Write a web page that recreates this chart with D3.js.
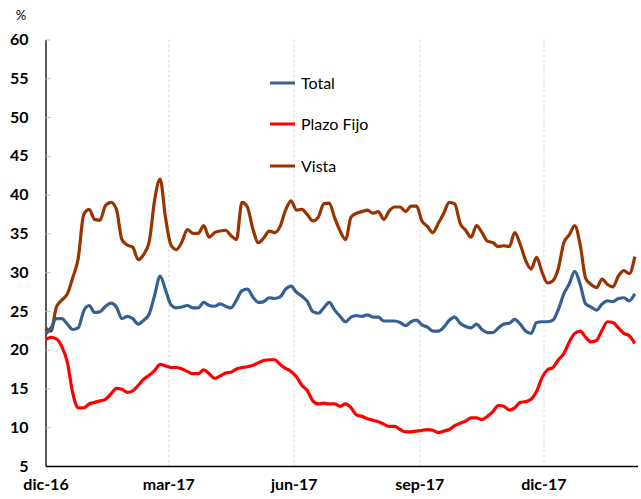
<!DOCTYPE html>
<html>
<head>
<meta charset="utf-8">
<script src="https://cdn.jsdelivr.net/npm/d3@7"></script>
<style>
  body { margin: 0; background: #fff; }
  svg { display: block; font-family: Lato, "Open Sans", sans-serif; }
</style>
</head>
<body>
<div id="wrapper"></div>
<script>
// series sampled every 4 days starting on 1 Dec 2016
const startDate = new Date(2016, 11, 1);
const stepDays = 4;

const totalValues = [
  22.0, 22.8, 24.0, 24.0, 23.3, 22.6, 22.8, 25.0, 25.7, 24.8,
  24.9, 25.6, 26.0, 25.5, 24.0, 24.3, 24.0, 23.3, 23.8, 24.6,
  27.0, 29.5, 27.7, 25.8, 25.4, 25.5, 25.7, 25.4, 25.4, 26.1,
  25.7, 25.6, 25.9, 25.6, 25.4, 26.4, 27.6, 27.8, 26.8, 26.1,
  26.2, 26.7, 26.6, 26.8, 27.8, 28.2, 27.4, 26.9, 26.2, 24.9,
  24.7, 25.4, 26.1, 25.1, 24.3, 23.6, 24.2, 24.4, 24.3, 24.5,
  24.2, 24.2, 23.7, 23.7, 23.7, 23.5, 23.1, 23.6, 23.8, 23.2,
  22.9, 22.4, 22.4, 22.9, 23.8, 24.2, 23.4, 23.0, 22.8, 23.3,
  22.6, 22.2, 22.2, 22.8, 23.3, 23.4, 23.9, 23.3, 22.4, 22.1,
  23.5, 23.6, 23.6, 23.8, 25.2, 27.2, 28.5, 30.1, 28.4, 25.9,
  25.5, 25.1, 25.9, 26.3, 26.2, 26.6, 26.7, 26.3, 27.2
];

const plazoFijoValues = [
  21.3, 21.6, 21.4, 20.4, 18.4, 14.4, 12.5, 12.5, 13.0, 13.2,
  13.4, 13.6, 14.3, 15.0, 14.9, 14.5, 14.7, 15.4, 16.2, 16.7,
  17.3, 18.1, 17.9, 17.7, 17.7, 17.5, 17.2, 16.9, 16.9, 17.4,
  16.9, 16.3, 16.6, 17.0, 17.1, 17.5, 17.7, 17.8, 18.0, 18.3,
  18.6, 18.7, 18.7, 18.1, 17.6, 17.2, 16.5, 15.4, 14.7, 13.4,
  13.0, 13.1, 13.0, 13.0, 12.7, 13.0, 12.5, 11.6, 11.4, 11.1,
  10.9, 10.7, 10.4, 10.1, 10.1, 9.7, 9.4, 9.4, 9.5, 9.6,
  9.7, 9.6, 9.3, 9.5, 9.7, 10.2, 10.5, 10.8, 11.2, 11.2,
  11.0, 11.4, 12.0, 12.8, 12.7, 12.2, 12.5, 13.2, 13.3, 13.6,
  14.6, 16.4, 17.4, 17.7, 18.7, 19.5, 21.0, 22.1, 22.4, 21.6,
  21.0, 21.2, 22.5, 23.6, 23.5, 22.8, 22.1, 21.8, 20.8
];

const vistaValues = [
  22.8, 22.4, 25.5, 26.4, 27.2, 29.3, 31.8, 37.4, 38.1, 36.8,
  36.7, 38.6, 39.0, 38.1, 34.2, 33.5, 33.2, 31.6, 32.3, 33.9,
  39.3, 42.0, 37.0, 33.5, 32.9, 33.9, 35.5, 35.0, 35.0, 36.0,
  34.5, 35.1, 35.3, 35.4, 34.7, 34.2, 39.0, 38.4, 35.6, 33.8,
  34.4, 35.3, 35.1, 35.9, 38.0, 39.2, 38.0, 38.1, 37.4, 36.6,
  37.1, 38.8, 38.9, 37.0, 35.3, 34.2, 37.1, 37.6, 37.8, 38.0,
  37.6, 37.8, 36.8, 37.9, 38.4, 38.4, 37.8, 38.5, 38.5, 36.6,
  35.9, 35.1, 36.3, 37.6, 39.0, 38.8, 36.3, 35.4, 34.5, 36.0,
  35.1, 34.0, 33.8, 33.3, 33.4, 33.3, 35.1, 33.6, 31.5, 30.4,
  31.9, 30.0, 28.6, 28.9, 30.5, 33.8, 34.8, 36.0, 33.5, 29.2,
  28.4, 28.0, 29.1, 28.4, 28.1, 29.5, 30.2, 29.8, 32.0
];

const seriesNames = ["Total", "Plazo Fijo", "Vista"];
const seriesColors = ["#376092", "#ff0000", "#993300"];
const yTicks = [5, 10, 15, 20, 25, 30, 35, 40, 45, 50, 55, 60];
const xTickDates = [new Date(2016, 11, 1), new Date(2017, 2, 1), new Date(2017, 5, 1), new Date(2017, 8, 1), new Date(2017, 11, 1)];
const xTickLabels = ["dic-16", "mar-17", "jun-17", "sep-17", "dic-17"];
const endDate = new Date(2018, 1, 8);

function buildPlot() {
    const dates = totalValues.map((v, i) => d3.timeDay.offset(startDate, i * stepDays));
    const allSeries = [totalValues, plazoFijoValues, vistaValues];

    var dimension = {
        width: 641,
        height: 499,
        margin: { top: 39.5, left: 45.5, bottom: 33, right: 3.5 }
    };
    dimension.boundedWidth = dimension.width - dimension.margin.left - dimension.margin.right;
    dimension.boundedHeight = dimension.height - dimension.margin.top - dimension.margin.bottom;

    const svg = d3.select("#wrapper").append("svg")
        .attr("width", dimension.width)
        .attr("height", dimension.height);
    const bounded = svg.append("g")
        .attr("transform", `translate(${dimension.margin.left},${dimension.margin.top})`);

    const xScaler = d3.scaleTime()
        .domain([startDate, endDate])
        .range([0, dimension.boundedWidth]);
    const yScaler = d3.scaleLinear()
        .domain([5, 60])
        .range([dimension.boundedHeight, 0]);

    // vertical dashed gridlines
    bounded.append("g")
        .selectAll("line")
        .data(xTickDates.slice(1))
        .join("line")
        .attr("x1", d => Math.round(xScaler(d)) + 0.5)
        .attr("x2", d => Math.round(xScaler(d)) + 0.5)
        .attr("y1", 0)
        .attr("y2", dimension.boundedHeight + 3)
        .attr("stroke", "#d9d9d9")
        .attr("stroke-dasharray", "3,2");

    // y axis with small inner ticks
    const yAxis = bounded.append("g")
        .call(d3.axisLeft(yScaler).tickValues(yTicks).tickSize(-5).tickSizeOuter(0).tickPadding(17));
    yAxis.select(".domain").attr("stroke", "#000").attr("stroke-width", 1.3);
    yAxis.selectAll(".tick line").attr("stroke", "#bfbfbf");
    yAxis.selectAll("text")
        .attr("font-size", 16).attr("font-weight", "bold").attr("fill", "#000")
        .attr("font-family", "Lato, sans-serif");

    // x axis
    const xAxis = bounded.append("g")
        .attr("transform", `translate(0,${dimension.boundedHeight})`)
        .call(d3.axisBottom(xScaler).tickValues(xTickDates)
            .tickFormat((d, i) => xTickLabels[i]).tickSize(0).tickPadding(13));
    xAxis.select(".domain").attr("stroke", "#000").attr("stroke-width", 1.3);
    xAxis.selectAll("text")
        .attr("font-size", 16).attr("font-weight", "bold").attr("fill", "#000")
        .attr("font-family", "Lato, sans-serif");

    const lineGenerator = values => d3.line()
        .x((d, i) => xScaler(dates[i]))
        .y(d => yScaler(d))
        .curve(d3.curveMonotoneX)(values);

    // draw Vista, Total, then Plazo Fijo on top
    [2, 0, 1].forEach(k => {
        bounded.append("path")
            .attr("d", lineGenerator(allSeries[k]))
            .attr("fill", "none")
            .attr("stroke", seriesColors[k])
            .attr("stroke-width", 3.2)
            .attr("stroke-linejoin", "round");
    });

    // % unit label
    svg.append("text")
        .attr("x", 21).attr("y", 20)
        .attr("text-anchor", "middle")
        .attr("font-size", 13).attr("fill", "#000")
        .text("%");

    // legend
    const legendY = [83, 124, 166];
    const legend = svg.append("g");
    seriesNames.forEach((name, i) => {
        legend.append("line")
            .attr("x1", 270).attr("x2", 295)
            .attr("y1", legendY[i]).attr("y2", legendY[i])
            .attr("stroke", seriesColors[i]).attr("stroke-width", 3);
        legend.append("text")
            .attr("x", 301).attr("y", legendY[i] + 5.5)
            .attr("font-size", 16).attr("fill", "#000")
            .text(name);
    });
}

buildPlot();
</script>
</body>
</html>
